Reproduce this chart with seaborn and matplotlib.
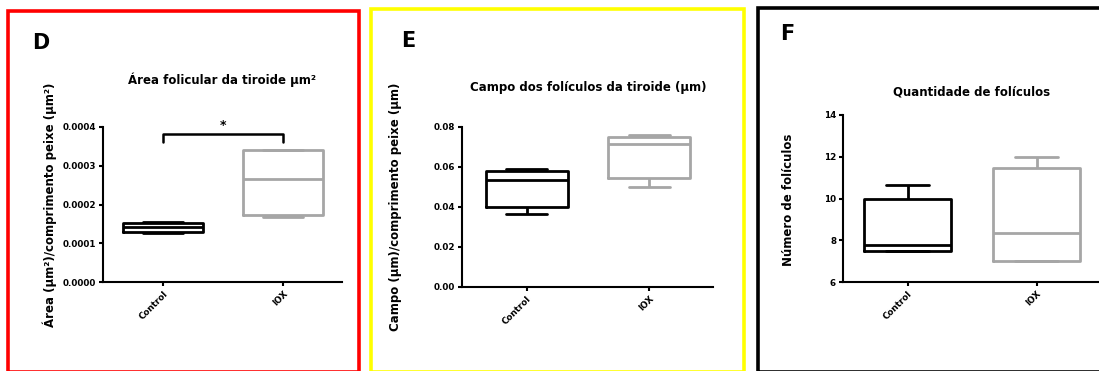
import pandas as pd
import seaborn as sns
import matplotlib.pyplot as plt
from matplotlib.patches import Rectangle
from matplotlib.ticker import FormatStrFormatter

groups = ['Control', 'IOX']

# five-number summaries (min, Q1, median, Q3, max)
area_control = [0.000126, 0.000128, 0.000141, 0.000153, 0.000156]
area_iox = [0.000167, 0.000173, 0.000265, 0.000340, 0.000341]

campo_control = [0.0363, 0.0402, 0.0533, 0.0579, 0.0589]
campo_iox = [0.0498, 0.0546, 0.0714, 0.0750, 0.0758]

num_control = [7.5, 7.5, 7.77, 10.0, 10.67]
num_iox = [7.0, 7.0, 8.33, 11.45, 12.0]

area_ticks = [0.0, 0.0001, 0.0002, 0.0003, 0.0004]
campo_ticks = [0.0, 0.02, 0.04, 0.06, 0.08]
num_ticks = [6, 8, 10, 12, 14]

# significance bracket on panel D
sig_y = 0.000381
sig_leg = 0.000362
sig_text_y = 0.000388
sig_label = '*'

palette = {'Control': 'black', 'IOX': '#a6a6a6'}

W, H = 1099, 371


def fx(x):
    return x / W


def fy(y):
    return 1 - y / H


sns.set_style('ticks')
plt.rcParams['font.family'] = ['DejaVu Sans']
plt.rcParams.update({
    'text.color': 'black',
    'axes.edgecolor': 'black',
    'axes.labelcolor': 'black',
    'xtick.color': 'black',
    'ytick.color': 'black',
})

fig = plt.figure(figsize=(W / 100, H / 100), dpi=100)

panels = [
    dict(letter='D', frame=(7.5, 10.5, 358.5, 372), frame_color='#ff0000',
         axes=(103, 127, 342, 282), xlim=(-0.5, 1.49),
         control=area_control, iox=area_iox, ticks=area_ticks, fmt='%.4f',
         title='Área folicular da tiroide µm²', title_xy=(222, 80),
         ylabel='Área (µm²)/comprimento peixe (µm²)', ylabel_xy=(50, 205),
         letter_xy=(41, 43)),
    dict(letter='E', frame=(371, 8.5, 744, 372), frame_color='#ffff00',
         axes=(462, 127, 713, 287), xlim=(-0.53, 1.52),
         control=campo_control, iox=campo_iox, ticks=campo_ticks, fmt='%.2f',
         title='Campo dos folículos da tiroide (µm)', title_xy=(588, 88),
         ylabel='Campo (µm)/comprimento peixe (µm)', ylabel_xy=(396, 207),
         letter_xy=(408, 41)),
    dict(letter='F', frame=(758, 8, 1110, 372), frame_color='black',
         axes=(843, 115, 1101, 282), xlim=(-0.5, 1.5),
         control=num_control, iox=num_iox, ticks=num_ticks, fmt='%d',
         title='Quantidade de folículos', title_xy=(972, 92),
         ylabel='Número de folículos', ylabel_xy=(789, 200),
         letter_xy=(787, 34)),
]

for p in panels:
    # coloured frame around the panel
    x0, y0, x1, y1 = p['frame']
    fig.add_artist(Rectangle((fx(x0), fy(y1)), (x1 - x0) / W, (y1 - y0) / H,
                             transform=fig.transFigure, fill=False,
                             edgecolor=p['frame_color'], linewidth=2.6,
                             clip_on=False))

    l, t, r, b = p['axes']
    ax = fig.add_axes([fx(l), fy(b), (r - l) / W, (b - t) / H])

    df = pd.DataFrame({
        'group': [groups[0]] * len(p['control']) + [groups[1]] * len(p['iox']),
        'value': p['control'] + p['iox'],
    })
    sns.boxplot(data=df, x='group', y='value', hue='group', order=groups,
                hue_order=groups, palette=palette, fill=False, width=0.67,
                whis=(0, 100), linewidth=2, legend=False, ax=ax)

    ax.set_ylim(p['ticks'][0], p['ticks'][-1])
    ax.set_yticks(p['ticks'])
    ax.yaxis.set_major_formatter(FormatStrFormatter(p['fmt']))
    ax.set_xlim(*p['xlim'])
    ax.set_xlabel('')
    ax.set_ylabel('')
    ax.set_xticks(range(len(groups)))
    ax.set_xticklabels(groups, rotation=45, ha='right', rotation_mode='anchor')

    sns.despine(ax=ax)
    for side in ('left', 'bottom'):
        ax.spines[side].set_linewidth(1.5)
    ax.tick_params(axis='both', length=3, width=1.5, labelsize=6.3, pad=2)
    for lab in ax.get_xticklabels() + ax.get_yticklabels():
        lab.set_fontweight('bold')

    fig.text(fx(p['title_xy'][0]), fy(p['title_xy'][1]), p['title'],
             ha='center', va='center', fontsize=8.5, fontweight='bold')
    fig.text(fx(p['ylabel_xy'][0]), fy(p['ylabel_xy'][1]), p['ylabel'],
             ha='center', va='center', rotation=90, fontsize=8.5,
             fontweight='bold')
    fig.text(fx(p['letter_xy'][0]), fy(p['letter_xy'][1]), p['letter'],
             ha='center', va='center', fontsize=15, fontweight='bold')

    if p['letter'] == 'D':
        ax.plot([0, 0, 1, 1], [sig_leg, sig_y, sig_y, sig_leg], color='black',
                linewidth=1.8, clip_on=False)
        ax.text(0.5, sig_text_y, sig_label, ha='center', va='bottom',
                fontsize=9, fontweight='bold')

fig.savefig('out.png', dpi=100)
